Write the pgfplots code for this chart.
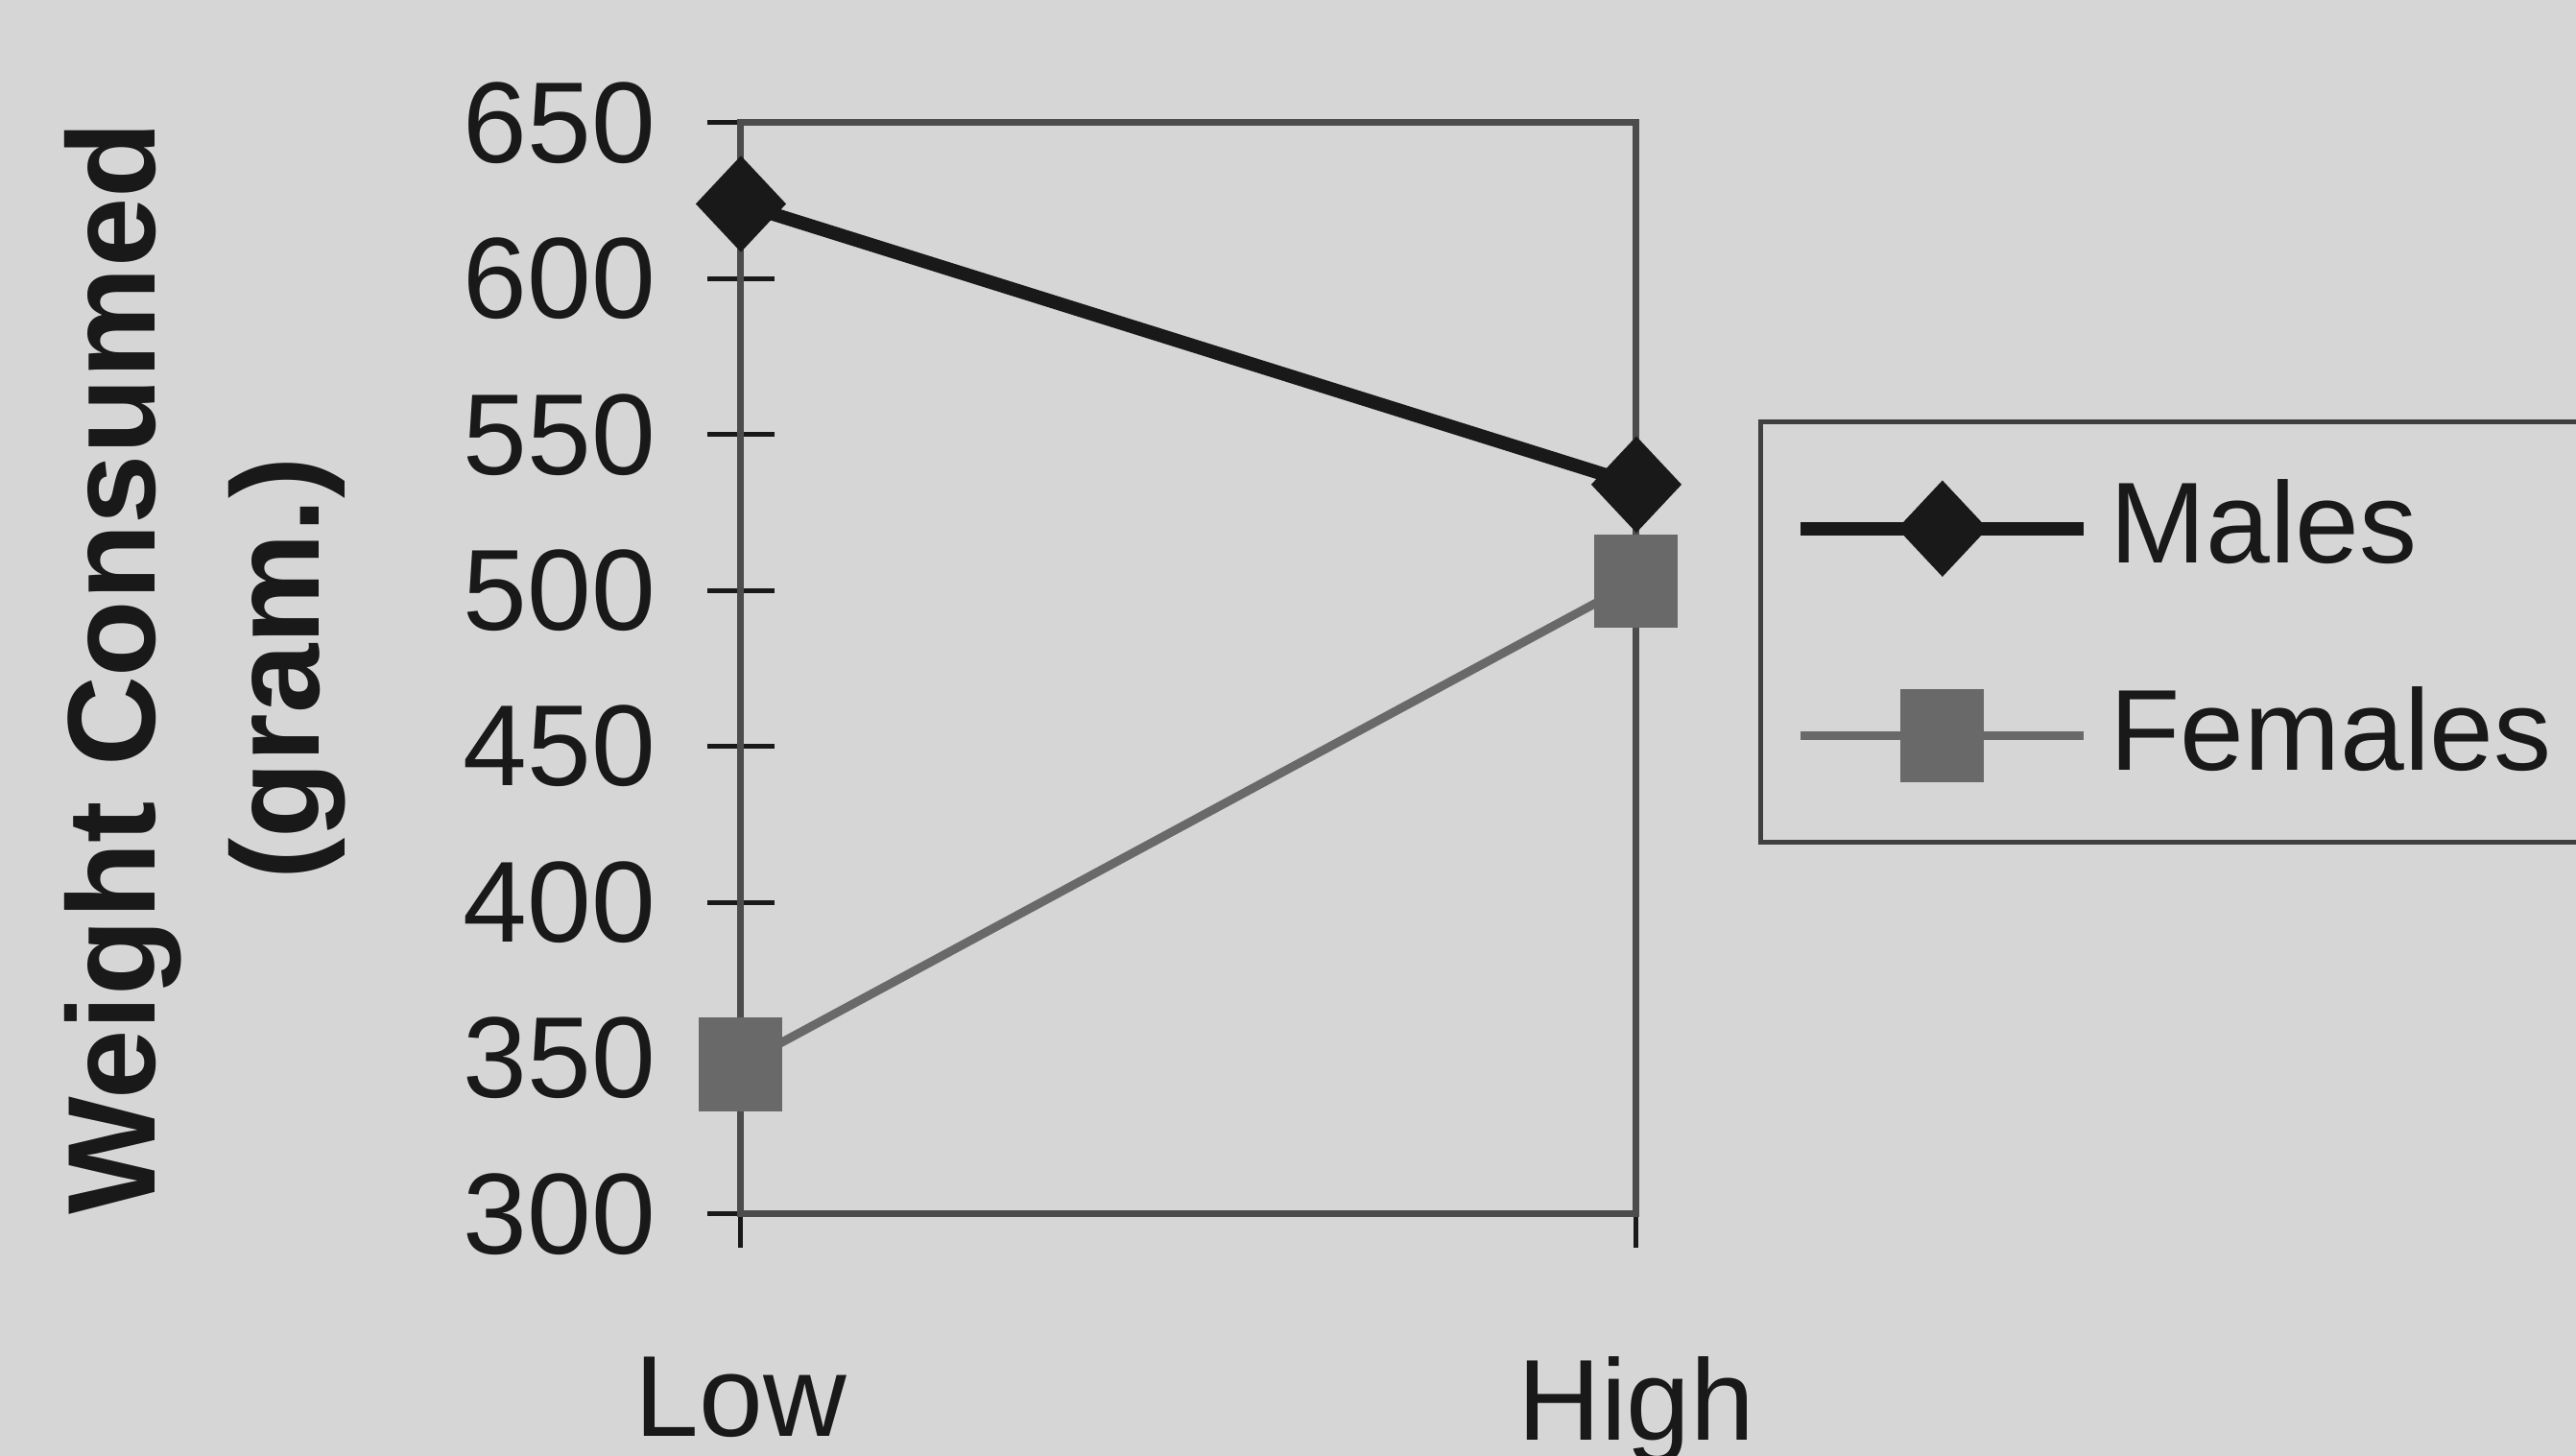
\documentclass[border=0pt]{standalone}
\usepackage{fontspec}
\setmainfont{Liberation Sans}
\usepackage{pgfplots}
\pgfplotsset{compat=1.18}
\definecolor{bg}{RGB}{214,214,214}
\definecolor{fem}{RGB}{105,105,105}
\definecolor{ink}{RGB}{25,25,25}
\begin{document}
\begin{tikzpicture}
\path[fill=bg, use as bounding box] (-77.2pt,-25.2pt) rectangle (191.2pt,126.5pt);
\begin{axis}[
  at={(0pt,0pt)}, anchor=south west,
  scale only axis, width=93.3pt, height=113.7pt,
  xmin=0, xmax=1, ymin=300, ymax=650,
  xtick={0,1}, xticklabels={Low,High},
  ytick={300,350,...,650},
  xtick pos=bottom, ytick pos=left,
  tick align=center, major tick length=7pt,
  tick style={ink, line width=0.5pt},
  axis line style={black!70, line width=0.7pt},
  ticklabel style={font=\fontsize{12}{14}\selectfont, text=ink},
  /pgf/number format/assume math mode=true,
  yticklabel style={anchor=east, inner sep=0pt, xshift=-5.2pt},
  xticklabel style={anchor=north, inner sep=0pt, yshift=-11.2pt},
  ylabel={Weight Consumed\\(gram.)},
  every axis y label/.style={at={(rel axis cs:-0.598,0.5)}, rotate=90, anchor=center,
     align=center, font=\bfseries\fontsize{13}{17.1}\selectfont, text=ink},
  clip=false,
  legend cell align=left,
  legend style={at={(rel axis cs:1.136,0.728)}, anchor=north west,
     draw=black!75, line width=0.5pt, fill=none,
     inner xsep=3.5pt, inner ysep=4pt, row sep=7.4pt,
     font=\fontsize{12}{14}\selectfont, text=ink},
  legend image code/.code={\draw[mark repeat=2,mark phase=2] plot coordinates {(0pt,0pt) (14.75pt,0pt) (29.5pt,0pt)};},
]
\addplot[ink, line width=1.4pt, mark=diamond*, mark size=4.8pt,
  mark options={fill=ink, draw=ink, line width=0.3pt, xscale=1.25}] coordinates {(0,624) (1,534)};
\addlegendentry{\makebox[60pt][l]{Males}}
\addplot[fem, line width=0.9pt, mark=square*, mark size=4.2pt,
  mark options={fill=fem, draw=fem, yscale=1.12, line width=0.3pt}] coordinates {(0,348) (1,503)};
\addlegendentry{\makebox[60pt][l]{Females}}
\end{axis}
\end{tikzpicture}
\end{document}
